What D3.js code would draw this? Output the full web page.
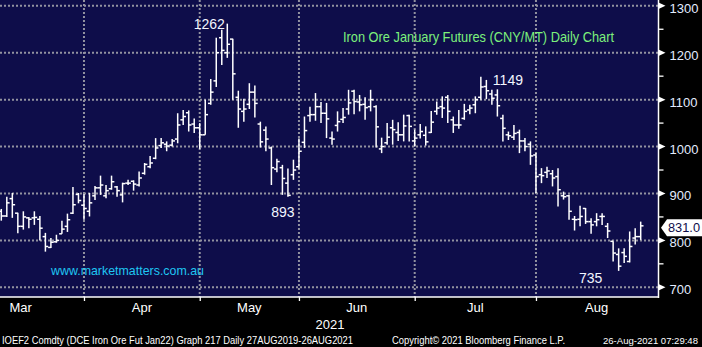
<!DOCTYPE html>
<html>
<head>
<meta charset="utf-8">
<script src="https://cdn.jsdelivr.net/npm/d3@7"></script>
<style>
  html, body { margin: 0; padding: 0; background: #000; }
  svg { display: block; }
  text { font-family: "Liberation Sans", Arial, sans-serif; }
</style>
</head>
<body>
<svg id="chart" width="702" height="347"></svg>
<script>
// Daily OHLC of DCE iron ore January futures (CNY/MT), one entry per trading session
const opens = [
  862, 852, 889, 858, 830, 848, 848, 845, 808, 785, 797, 814, 830, 858, 898,
  875, 862, 895, 912, 895, 910, 914, 897, 922, 926, 918, 943, 957, 975, 1002,
  1005, 1003, 1016, 1057, 1072, 1048, 1040, 1025, 1092, 1140, 1232, 1200, 1229, 1105, 1075,
  1090, 1116, 1048, 1035, 997, 952, 955, 922, 940, 957, 1009, 1066, 1068, 1085, 1071,
  1018, 1045, 1058, 1080, 1118, 1095, 1090, 1085, 1085, 995, 1008, 1040, 1030, 1025, 1066,
  1012, 1025, 1024, 1030, 1075, 1085, 1105, 1057, 1046, 1060, 1078, 1089, 1105, 1128, 1112,
  1110, 1060, 1025, 1020, 1030, 1012, 1005, 982, 940, 945, 942, 936, 895, 895, 845,
  845, 868, 840, 840, 851, 830, 798, 770, 774, 755, 805, 808
];
const highs = [
  867, 893, 901, 859, 862, 850, 862, 852, 816, 805, 812, 842, 857, 914, 901,
  899, 901, 916, 938, 918, 938, 916, 923, 929, 928, 947, 965, 980, 1018, 1018,
  1011, 1016, 1071, 1078, 1077, 1060, 1050, 1100, 1144, 1232, 1249, 1262, 1230, 1119, 1102,
  1135, 1130, 1053, 1043, 1000, 974, 961, 953, 972, 1017, 1064, 1085, 1114, 1095, 1093,
  1032, 1075, 1082, 1121, 1121, 1110, 1105, 1121, 1088, 1019, 1050, 1057, 1052, 1068, 1068,
  1036, 1048, 1043, 1076, 1096, 1107, 1110, 1064, 1078, 1091, 1089, 1107, 1149, 1142, 1121,
  1122, 1068, 1032, 1046, 1036, 1018, 1011, 986, 954, 957, 950, 954, 904, 897, 852,
  874, 869, 847, 858, 858, 837, 798, 783, 783, 819, 826, 840
];
const lows = [
  842, 850, 848, 815, 823, 826, 833, 800, 776, 784, 795, 814, 818, 856, 879,
  844, 851, 886, 897, 890, 908, 893, 881, 918, 906, 915, 940, 954, 973, 997,
  990, 1000, 1007, 1046, 1032, 1029, 995, 1025, 1089, 1127, 1174, 1189, 1100, 1040, 1053,
  1080, 1062, 998, 990, 918, 945, 897, 893, 929, 953, 997, 1053, 1055, 1050, 1018,
  1004, 1032, 1050, 1068, 1069, 1075, 1057, 1075, 998, 986, 1004, 1004, 1012, 1011, 1011,
  1000, 1017, 1002, 1029, 1068, 1061, 1050, 1029, 1038, 1057, 1069, 1071, 1100, 1101, 1089,
  1064, 1011, 1014, 1014, 986, 990, 961, 901, 922, 933, 915, 872, 887, 844, 821,
  830, 835, 814, 830, 833, 805, 755, 735, 752, 753, 791, 801
];
const closes = [
  852, 880, 876, 830, 850, 845, 849, 826, 787, 796, 800, 824, 844, 876, 885,
  868, 880, 912, 918, 906, 925, 906, 921, 922, 920, 933, 962, 965, 997, 1008,
  1001, 1012, 1046, 1064, 1046, 1040, 1025, 1068, 1116, 1200, 1205, 1218, 1155, 1080, 1080,
  1116, 1092, 1010, 1016, 955, 968, 932, 896, 950, 990, 1034, 1068, 1085, 1071, 1059,
  1016, 1053, 1062, 1093, 1096, 1089, 1083, 1100, 1042, 1000, 1020, 1036, 1025, 1044, 1043,
  1018, 1032, 1010, 1052, 1082, 1082, 1075, 1046, 1046, 1075, 1082, 1100, 1127, 1119, 1103,
  1087, 1039, 1023, 1028, 1012, 1000, 980, 936, 938, 948, 933, 908, 893, 862, 844,
  851, 840, 833, 844, 851, 820, 773, 745, 766, 787, 808, 831
];

// Month axis: session index of each month's first trading day (last entry = start of September)
const monthNames = ["Mar", "Apr", "May", "Jun", "Jul", "Aug"];
const monthStarts = [-8, 15, 36, 54, 75, 97, 119];
const yearLabel = "2021";

const yTicks = [700, 800, 900, 1000, 1100, 1200, 1300];
const yMinorTicks = [750, 850, 950, 1050, 1150, 1250];
const lastPrice = 831.0;

const titleText = "Iron Ore January Futures (CNY/MT) Daily Chart";
const siteText = "www.marketmatters.com.au";
const footerLeft = "IOEF2 Comdty (DCE Iron Ore Fut  Jan22) Graph 217  Daily 27AUG2019-26AUG2021";
const footerMid = "Copyright\u00A9 2021 Bloomberg Finance L.P.";
const footerRight = "26-Aug-2021 07:29:48";

const bars = opens.map((o, i) => ({ i, o, h: highs[i], l: lows[i], c: closes[i] }));

const svg = d3.select("#chart");
const W = 702, H = 347;
const plotRight = 658.5, plotBottom = 297;

const x = d3.scaleLinear().domain([0, bars.length - 1]).range([1.3, 640.7]);
const y = d3.scaleLinear().domain([700, 1300]).range([287.3, 5.8]);

// background
svg.append("rect").attr("width", W).attr("height", H).attr("fill", "#000");
svg.append("rect").attr("x", 0).attr("y", 0)
  .attr("width", plotRight).attr("height", plotBottom).attr("fill", "#0e0d4a");

// dotted grid
const gridStyle = sel => sel.attr("stroke", "#9292a0").attr("stroke-width", 2)
  .attr("stroke-dasharray", "2,2");
svg.append("g").selectAll("line").data(yTicks).join("line")
  .attr("x1", 0).attr("x2", plotRight)
  .attr("y1", d => y(d)).attr("y2", d => y(d))
  .call(gridStyle);
svg.append("g").selectAll("line").data(monthStarts.slice(1, -1)).join("line")
  .attr("x1", d => x(d)).attr("x2", d => x(d))
  .attr("y1", 0).attr("y2", plotBottom)
  .call(gridStyle);

// OHLC bars
const tick = 2.8;
const gBars = svg.append("g").attr("stroke", "#fff").attr("stroke-width", 1.5);
const barG = gBars.selectAll("g").data(bars).join("g");
barG.append("line")
  .attr("x1", d => x(d.i)).attr("x2", d => x(d.i))
  .attr("y1", d => y(d.h)).attr("y2", d => y(d.l));
barG.append("line")
  .attr("x1", d => x(d.i) - tick).attr("x2", d => x(d.i))
  .attr("y1", d => y(d.o)).attr("y2", d => y(d.o));
barG.append("line")
  .attr("x1", d => x(d.i)).attr("x2", d => x(d.i) + tick)
  .attr("y1", d => y(d.c)).attr("y2", d => y(d.c));

// right price axis
const yAxisG = svg.append("g").attr("transform", `translate(${plotRight},0)`)
  .call(d3.axisRight(y).tickValues(yTicks).tickSize(0).tickPadding(11).tickFormat(d3.format("d")));
yAxisG.select(".domain").remove();
yAxisG.selectAll("text").attr("fill", "#e3ecff").attr("font-size", 13)
  .attr("dy", "0.5em")
  .attr("font-family", "Liberation Sans, Arial, sans-serif");
svg.append("line").attr("x1", plotRight).attr("x2", plotRight)
  .attr("y1", 0).attr("y2", plotBottom + 1).attr("stroke", "#fff").attr("stroke-width", 1.5);
svg.append("g").selectAll("path").data(yTicks).join("path")
  .attr("d", d => `M${plotRight},${y(d) - 3.2}L${plotRight + 7},${y(d)}L${plotRight},${y(d) + 3.2}Z`)
  .attr("fill", "#fff");
svg.append("g").selectAll("line").data(yMinorTicks).join("line")
  .attr("x1", plotRight).attr("x2", plotRight + 5)
  .attr("y1", d => y(d)).attr("y2", d => y(d))
  .attr("stroke", "#fff").attr("stroke-width", 1.3);

// bottom time axis
svg.append("line").attr("x1", 0).attr("x2", plotRight)
  .attr("y1", plotBottom).attr("y2", plotBottom).attr("stroke", "#fff").attr("stroke-width", 1.5);
const xAxisG = svg.append("g").attr("transform", `translate(0,${plotBottom})`)
  .call(d3.axisBottom(x).tickValues(monthStarts.slice(1, -1)).tickSize(4).tickFormat(""));
xAxisG.select(".domain").remove();
xAxisG.selectAll("line").attr("stroke", "#fff").attr("stroke-width", 1.3);

svg.append("g").selectAll("text").data(monthNames).join("text")
  .attr("x", (d, k) => x((monthStarts[k] + monthStarts[k + 1]) / 2))
  .attr("y", 312)
  .attr("text-anchor", "middle")
  .attr("fill", "#fff").attr("font-size", 13)
  .text(d => d);
svg.append("text").attr("x", 330).attr("y", 329).attr("text-anchor", "middle")
  .attr("fill", "#fff").attr("font-size", 13).text(yearLabel);

// extreme value annotations
const iMax = d3.maxIndex(highs);
const iMin = d3.minIndex(lows);
const iLocalHigh = d3.maxIndex(highs.slice(60)) + 60;
const iLocalLow = d3.minIndex(lows.slice(45, 60)) + 45;
const notes = [
  { i: iMax, v: highs[iMax], dx: -18, dy: 5, anchor: "middle" },
  { i: iLocalHigh, v: highs[iLocalHigh], dx: 12, dy: 8, anchor: "start" },
  { i: iLocalLow, v: lows[iLocalLow], dx: -5, dy: 20, anchor: "middle" },
  { i: iMin, v: lows[iMin], dx: -28, dy: 12, anchor: "middle" }
];
svg.append("g").selectAll("text").data(notes).join("text")
  .attr("x", d => x(d.i) + d.dx)
  .attr("y", d => y(d.v) + d.dy)
  .attr("text-anchor", d => d.anchor)
  .attr("fill", "#f2f6ff").attr("font-size", 14)
  .text(d => d3.format("d")(d.v));

// last price marker
const ly = y(lastPrice) + 2;
svg.append("path")
  .attr("d", `M661,${ly}L667,${ly - 8.5}L702,${ly - 8.5}L702,${ly + 8.5}L667,${ly + 8.5}Z`)
  .attr("fill", "#fff");
svg.append("text").attr("x", 668).attr("y", ly + 4.5)
  .attr("fill", "#0e0d4a").attr("font-size", 13)
  .attr("textLength", 32).attr("lengthAdjust", "spacingAndGlyphs")
  .text(d3.format(".1f")(lastPrice));

// title and site
svg.append("text").attr("x", 343).attr("y", 42)
  .attr("fill", "#7cf07c").attr("font-size", 14.5)
  .attr("textLength", 271).attr("lengthAdjust", "spacingAndGlyphs")
  .text(titleText);
svg.append("text").attr("x", 51).attr("y", 275)
  .attr("fill", "#1ec6f2").attr("font-size", 13.5)
  .attr("textLength", 153).attr("lengthAdjust", "spacingAndGlyphs")
  .text(siteText);

// footer
const footer = [
  { t: footerLeft, x: 2, w: 351, fs: 10 },
  { t: footerMid, x: 392, w: 173, fs: 10 },
  { t: footerRight, x: 603, w: 95, fs: 9.5 }
];
svg.append("g").selectAll("text").data(footer).join("text")
  .attr("x", d => d.x).attr("y", 344)
  .attr("fill", "#fff").attr("font-size", d => d.fs)
  .attr("textLength", d => d.w).attr("lengthAdjust", "spacingAndGlyphs")
  .text(d => d.t);
</script>
</body>
</html>
